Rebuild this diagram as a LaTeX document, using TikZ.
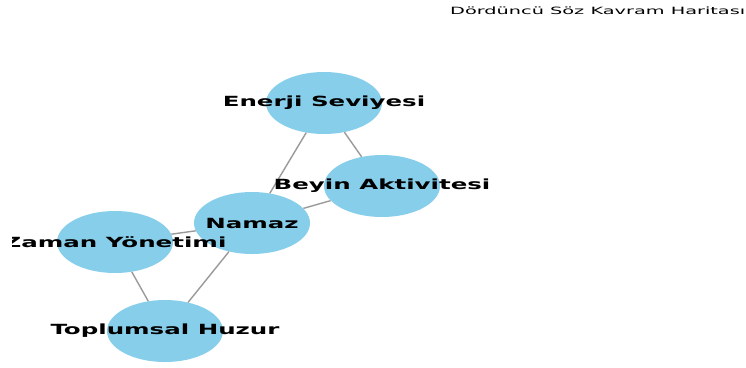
\documentclass[tikz,border=0pt]{standalone}
\usepackage{fontspec}
\newfontfamily\labelfont[FakeStretch=1.75]{DejaVu Sans Bold}
\newfontfamily\titlefont[FakeStretch=1.93]{DejaVu Sans}
\usetikzlibrary{shapes.geometric}
\definecolor{nodeblue}{HTML}{87CEEB}
\definecolor{edgegray}{HTML}{9A9A9A}
\tikzset{
  concept/.style={ellipse, fill=nodeblue, minimum width=116pt, minimum height=62pt, inner sep=0pt},
  link/.style={edgegray, line width=1.4pt},
  conceptlabel/.style={font=\labelfont\fontsize{14pt}{14pt}\selectfont, inner sep=0pt}
}
\begin{document}
\begin{tikzpicture}[x=1pt, y=-1pt]
    \useasboundingbox[fill=white] (0, 0) rectangle (746, 367);

    \node[concept] (enerji) at (324, 103) {};
    \node[concept] (beyin) at (382, 186) {};
    \node[concept] (namaz) at (252, 223) {};
    \node[concept] (zaman) at (115, 242) {};
    \node[concept] (huzur) at (165, 331) {};

    \draw[link] (enerji) -- (namaz);
    \draw[link] (enerji) -- (beyin);
    \draw[link] (beyin) -- (namaz);
    \draw[link] (namaz) -- (zaman);
    \draw[link] (namaz) -- (huzur);
    \draw[link] (zaman) -- (huzur);

    \begin{scope}
      \clip (12, 0) rectangle (746, 367);
      \node[conceptlabel] at (enerji) {Enerji Seviyesi};
      \node[conceptlabel] at (beyin) {Beyin Aktivitesi};
      \node[conceptlabel] at (namaz) {Namaz};
      \node[conceptlabel] at (zaman) {Zaman Yönetimi};
      \node[conceptlabel] at (huzur) {Toplumsal Huzur};
    \end{scope}

    \node[anchor=base west, inner sep=0pt, font=\titlefont\fontsize{10pt}{10pt}\selectfont] (title) at (450, 14) {Dördüncü Söz Kavram Haritası};
  \end{tikzpicture}
\end{document}
